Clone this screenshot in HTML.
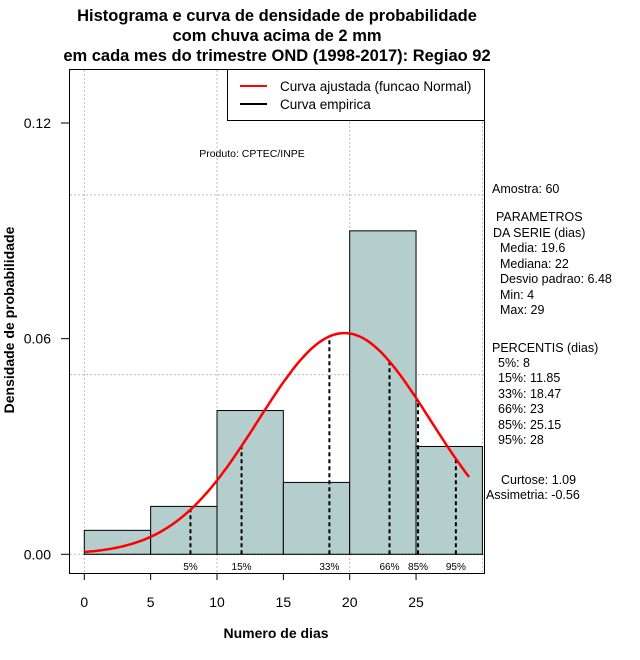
<!DOCTYPE html>
<html><head><meta charset="utf-8"><style>
body{margin:0;background:#fff}
svg{display:block;font-family:"Liberation Sans",sans-serif}
</style></head><body>
<svg id="c" width="640" height="660" xmlns="http://www.w3.org/2000/svg">
<g font-weight="bold" font-size="16.5" text-anchor="middle">
<text x="277" y="21">Histograma e curva de densidade de probabilidade</text>
<text x="277" y="41">com chuva acima de 2 mm</text>
<text x="277" y="61">em cada mes do trimestre OND (1998-2017): Regiao 92</text>
</g>
<g id="grid"></g>
<g id="bars"></g>
<g id="pct"></g>
<path id="curve" fill="none" stroke="#f00" stroke-width="2.5"/>
<rect x="69.5" y="69.5" width="415" height="504" fill="none" stroke="#000"/>
<g id="axes" font-size="14"></g>
<g>
<rect x="227.5" y="69.5" width="257" height="51" fill="#fff" stroke="#000"/>
<line x1="240" y1="86" x2="267" y2="86" stroke="#f00" stroke-width="2"/>
<line x1="240" y1="104" x2="267" y2="104" stroke="#000" stroke-width="2"/>
<text x="280" y="91" font-size="13.5">Curva ajustada (funcao Normal)</text>
<text x="280" y="109" font-size="13.5">Curva empirica</text>
</g>
<text x="252" y="157" font-size="10.5" text-anchor="middle">Produto: CPTEC/INPE</text>
<g font-size="12.5">
<text x="492" y="193">Amostra: 60</text>
<text x="496" y="221">PARAMETROS</text>
<text x="493" y="237">DA SERIE (dias)</text>
<text x="500" y="252">Media: 19.6</text>
<text x="500" y="268">Mediana: 22</text>
<text x="500" y="283">Desvio padrao: 6.48</text>
<text x="500" y="299">Min: 4</text>
<text x="500" y="314">Max: 29</text>
<text x="492" y="352">PERCENTIS (dias)</text>
<text x="498" y="367">5%: 8</text>
<text x="498" y="382">15%: 11.85</text>
<text x="498" y="398">33%: 18.47</text>
<text x="498" y="413">66%: 23</text>
<text x="498" y="429">85%: 25.15</text>
<text x="498" y="444">95%: 28</text>
<text x="501" y="484">Curtose: 1.09</text>
<text x="486" y="499">Assimetria: -0.56</text>
</g>
<text x="276" y="638" font-size="14" font-weight="bold" text-anchor="middle">Numero de dias</text>
<text transform="translate(14,320) rotate(-90)" font-size="14" font-weight="bold" text-anchor="middle">Densidade de probabilidade</text>
<script>
const binEdges=[0,5,10,15,20,25,30];
const binCounts=[2,4,12,6,27,9];
const sampleN=60;
const meanVal=19.6, sdVal=6.48, minVal=0, maxVal=29;
const pctValues=[8,11.85,18.47,23,25.15,28];
const pctLabels=["5%","15%","33%","66%","85%","95%"];
const xTicks=[0,5,10,15,20,25];
const yTicks=[0,0.06,0.12];
const yTickLabels=["0.00","0.06","0.12"];
const xGrid=[0,10,20,30];
const yGrid=[0,0.05,0.1];
const NS="http://www.w3.org/2000/svg";
const X=v=>84.3+v*13.27;
const Y=v=>554.3-v*3594;
function mk(t,a,p){const e=document.createElementNS(NS,t);for(const k in a)e.setAttribute(k,a[k]);p.appendChild(e);return e;}
const dn=x=>Math.exp(-0.5*((x-meanVal)/sdVal)**2)/(sdVal*Math.sqrt(2*Math.PI));
const grid=document.getElementById('grid');
xGrid.forEach(v=>{const l=mk('line',{x1:X(v),x2:X(v),y1:70,y2:573,stroke:'#bbb','stroke-dasharray':'2,2'},grid);

});
yGrid.forEach(v=>{const l=mk('line',{x1:70,x2:484,y1:Y(v),y2:Y(v),stroke:'#bbb','stroke-dasharray':'2,2'},grid);

});
const bars=document.getElementById('bars');
binCounts.forEach((c,i)=>{const w=binEdges[i+1]-binEdges[i];const d=c/sampleN/w;
const r=mk('rect',{x:X(binEdges[i]),y:Y(d),width:X(binEdges[i+1])-X(binEdges[i]),height:Y(0)-Y(d),fill:'#b4cece',stroke:'#000'},bars);

});
mk('line',{x1:X(0),x2:X(30),y1:Y(0),y2:Y(0),stroke:'#000','stroke-dasharray':'1,2'},bars);
const pct=document.getElementById('pct');
pctValues.forEach((v,i)=>{const l=mk('line',{x1:X(v),x2:X(v),y1:Y(0),y2:Y(dn(v)),stroke:'#000','stroke-width':2,'stroke-dasharray':'4,3'},pct);


const t=mk('text',{x:X(v),y:570,'font-size':10,'text-anchor':'middle'},pct);t.textContent=pctLabels[i];

});
let d='';for(let x=minVal;x<=maxVal+1e-9;x+=0.25){d+=(d?'L':'M')+X(x).toFixed(1)+','+Y(dn(x)).toFixed(1);}
document.getElementById('curve').setAttribute('d',d);
const ax=document.getElementById('axes');
mk('line',{x1:X(0),x2:X(25),y1:573.5,y2:573.5,stroke:'#000'},ax);
xTicks.forEach(v=>{mk('line',{x1:X(v),x2:X(v),y1:573,y2:580,stroke:'#000'},ax);
const t=mk('text',{x:X(v),y:607,'text-anchor':'middle'},ax);t.textContent=v;

});
yTicks.forEach((v,i)=>{mk('line',{x1:61,x2:69,y1:Y(v),y2:Y(v),stroke:'#000'},ax);
const t=mk('text',{x:51,y:Y(v)+5,'text-anchor':'end'},ax);t.textContent=yTickLabels[i];

});
</script>
</svg>
</body></html>
